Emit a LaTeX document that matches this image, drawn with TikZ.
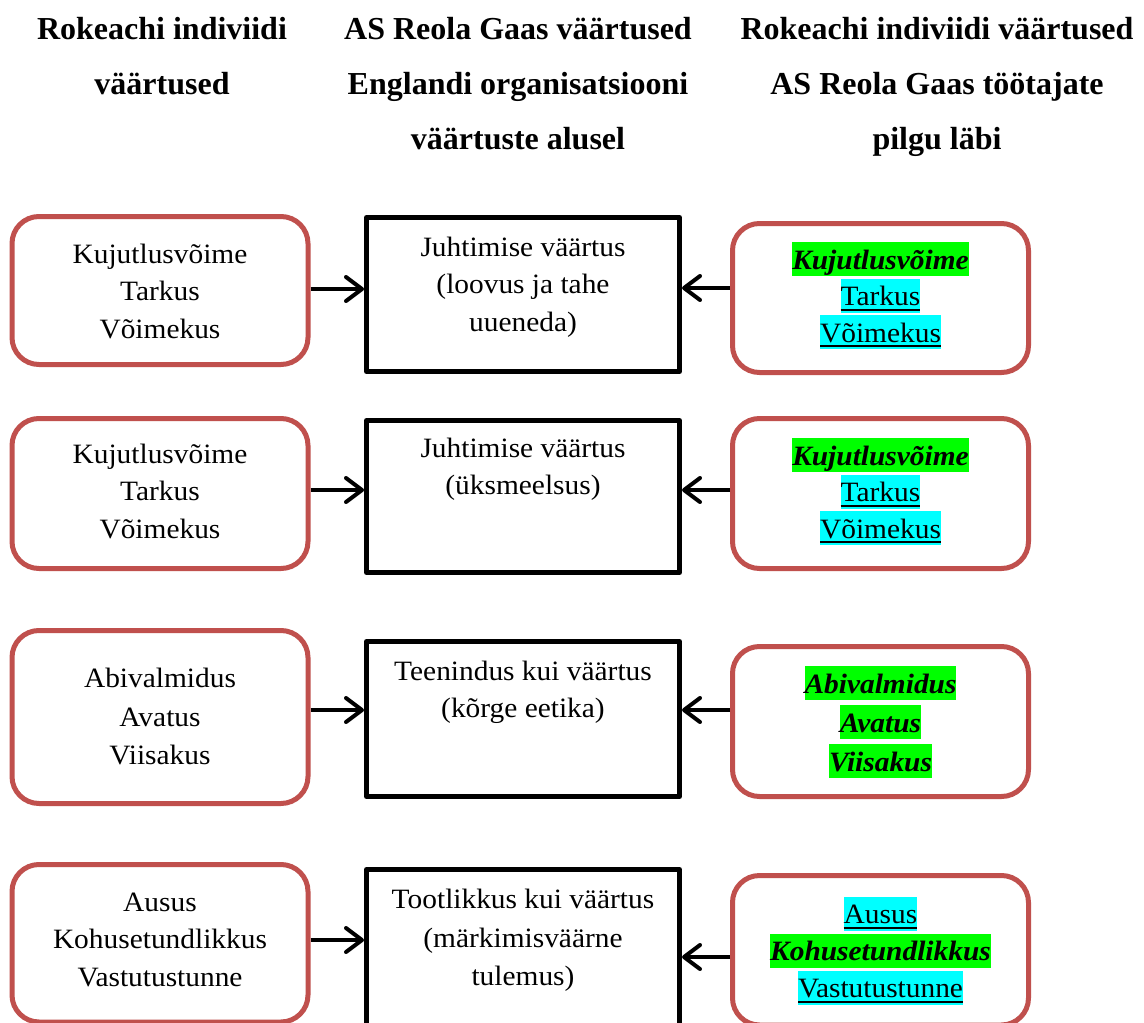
\documentclass[tikz,border=0pt]{standalone}
\usepackage{fontspec}
\setmainfont{Liberation Serif}
\newfontfamily\bodyfont[FakeStretch=1.05]{Liberation Serif}
\newfontfamily\hdfont{Liberation Serif}
\usetikzlibrary{arrows.meta}
\definecolor{boxred}{HTML}{C0504D}
\definecolor{hlgreen}{HTML}{00FF00}
\definecolor{hlcyan}{HTML}{00FFFF}
\setlength{\fboxsep}{0pt}
\newcommand\lstrut{\rule[-7pt]{0pt}{34pt}}
\newcommand\hstrut{\rule[-10pt]{0pt}{40pt}}
\newcommand\myul[1]{\setbox0\hbox{#1}\rlap{\rule[-5pt]{\wd0}{2pt}}\box0}
\newcommand\hlg[1]{\colorbox{hlgreen}{\lstrut\textbf{\textit{#1}}}}
\newcommand\hlu[1]{\colorbox{hlcyan}{\lstrut\myul{#1}}}
\tikzset{
  redbox/.style={draw=boxred, line width=5pt, rounded corners=27pt, minimum width=295pt, inner sep=0pt},
  blackbox/.style={draw=black, line width=5pt, line join=round, minimum width=313pt, inner sep=0pt},
  txt/.style={align=center, inner sep=0pt, font=\bodyfont\fontsize{28}{37.5}\selectfont},
  hdr/.style={align=center, inner sep=0pt, font=\hdfont\bfseries\fontsize{32}{55}\selectfont},
  conn/.style={line width=4pt, -{Straight Barb[length=16pt,width=24pt,round]}}
}
\begin{document}
\begin{tikzpicture}[x=1pt,y=-1pt]
\useasboundingbox[fill=white] (0,0) rectangle (1144,1023);
% headers
\node[hdr] (h1) at (162,56.5) {\hstrut Rokeachi indiviidi\\\hstrut väärtused};
\node[hdr] (h2) at (518,84) {\hstrut AS Reola Gaas väärtused\\\hstrut Englandi organisatsiooni\\\hstrut väärtuste alusel};
\node[hdr] (h3) at (937,84) {\hstrut Rokeachi indiviidi väärtused\\\hstrut AS Reola Gaas töötajate\\\hstrut pilgu läbi};
% boxes
\node[redbox, minimum width=296pt, minimum height=148pt] (L1) at (160,290.5) {};
\node[blackbox, minimum height=154pt] (M1) at (523,294.5) {};
\node[redbox, minimum width=296pt, minimum height=149pt] (R1) at (880.5,298) {};
\node[redbox, minimum width=296pt, minimum height=150pt] (L2) at (160,493.5) {};
\node[blackbox, minimum height=152pt] (M2) at (523,496.5) {};
\node[redbox, minimum width=296pt, minimum height=150pt] (R2) at (880.5,493.5) {};
\node[redbox, minimum width=296pt, minimum height=173pt] (L3) at (160,717) {};
\node[blackbox, minimum height=155pt] (M3) at (523,719) {};
\node[redbox, minimum width=296pt, minimum height=150pt] (R3) at (880.5,721.5) {};
\node[redbox, minimum width=296pt, minimum height=157.5pt] (L4) at (160,943.25) {};
\node[blackbox, minimum height=160.5pt] (M4) at (523,949.75) {};
\node[redbox, minimum width=296pt, minimum height=149.5pt] (R4) at (880.5,950.25) {};
% texts
\node[txt] (t1l) at (160,290.5) {\lstrut Kujutlusvõime\\\lstrut Tarkus\\\lstrut Võimekus};
\node[txt] (t1m) at (523,283.5) {\lstrut Juhtimise väärtus\\\lstrut (loovus ja tahe\\\lstrut uueneda)};
\node[txt] (t1r) at (880.5,295.5) {\hlg{Kujutlusvõime}\\[-1pt]\hlu{Tarkus}\\[-1pt]\hlu{Võimekus}};
\node[txt] (t2l) at (160,490.5) {\lstrut Kujutlusvõime\\\lstrut Tarkus\\\lstrut Võimekus};
\node[txt] (t2m) at (523,466) {\lstrut Juhtimise väärtus\\\lstrut (üksmeelsus)};
\node[txt] (t2r) at (880.5,491.5) {\hlg{Kujutlusvõime}\\[-1pt]\hlu{Tarkus}\\[-1pt]\hlu{Võimekus}};
\node[txt] (t3l) at (160,716) {\lstrut Abivalmidus\\[1pt]\lstrut Avatus\\[1pt]\lstrut Viisakus};
\node[txt] (t3m) at (523,688.75) {\lstrut Teenindus kui väärtus\\\lstrut (kõrge eetika)};
\node[txt] (t3r) at (880.5,722) {\hlg{Abivalmidus}\\[1.5pt]\hlg{Avatus}\\[1.5pt]\hlg{Viisakus}};
\node[txt] (t4l) at (160,938.5) {\lstrut Ausus\\\lstrut Kohusetundlikkus\\\lstrut Vastutustunne};
\node[txt] (t4m) at (523,937) {\lstrut Tootlikkus kui väärtus\\[1pt]\lstrut (märkimisväärne\\[1pt]\lstrut tulemus)};
\node[txt] (t4r) at (880.5,950.5) {\hlu{Ausus}\\[-0.5pt]\hlg{Kohusetundlikkus}\\[-0.5pt]\hlu{Vastutustunne}};
% connectors
\draw[conn] (L1.east |- 0,289) -- (M1.west |- 0,289);
\draw[conn] (R1.west |- 0,288) -- (M1.east |- 0,288);
\draw[conn] (L2.east |- 0,490) -- (M2.west |- 0,490);
\draw[conn] (R2.west |- 0,490) -- (M2.east |- 0,490);
\draw[conn] (L3.east |- 0,710) -- (M3.west |- 0,710);
\draw[conn] (R3.west |- 0,710) -- (M3.east |- 0,710);
\draw[conn] (L4.east |- 0,940) -- (M4.west |- 0,940);
\draw[conn] (R4.west |- 0,957) -- (M4.east |- 0,957);
\end{tikzpicture}
\end{document}
